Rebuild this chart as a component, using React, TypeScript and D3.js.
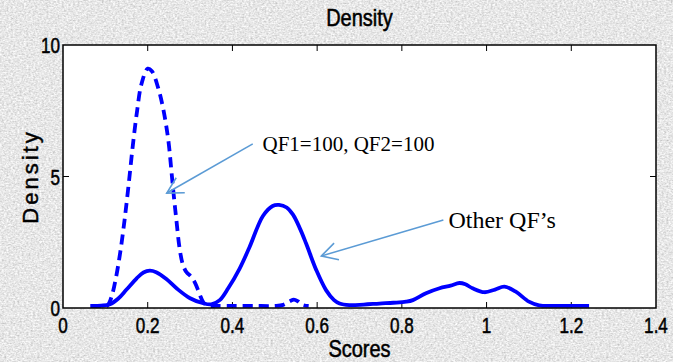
import * as d3 from 'd3';

const W = 673;
const H = 362;

// QF1=100, QF2=100 (dashed)
const qfScores = [0.065, 0.09, 0.105, 0.115, 0.125, 0.135, 0.145, 0.155, 0.165, 0.175, 0.185, 0.2, 0.21, 0.225, 0.235, 0.243, 0.25, 0.256, 0.262, 0.268, 0.275, 0.283, 0.292, 0.302, 0.312, 0.322, 0.332, 0.345, 0.36, 0.4, 0.45, 0.5, 0.52, 0.535, 0.545, 0.555, 0.565, 0.58];
const qfDensity = [0.08, 0.08, 0.1, 0.45, 1.15, 2.1, 3.3, 4.7, 6.2, 7.5, 8.5, 9.1, 9.0, 8.35, 7.7, 7.0, 6.2, 5.2, 4.2, 3.3, 2.3, 1.65, 1.35, 1.2, 0.95, 0.55, 0.2, 0.08, 0.08, 0.08, 0.08, 0.08, 0.12, 0.25, 0.32, 0.25, 0.12, 0.08];

// Other QF's (solid)
const otherScores = [0.065, 0.09, 0.111, 0.13, 0.15, 0.174, 0.19, 0.205, 0.22, 0.244, 0.268, 0.3, 0.331, 0.35, 0.37, 0.39, 0.417, 0.44, 0.472, 0.495, 0.51, 0.528, 0.543, 0.56, 0.574, 0.598, 0.621, 0.64, 0.653, 0.676, 0.71, 0.747, 0.78, 0.81, 0.826, 0.857, 0.889, 0.915, 0.936, 0.95, 0.967, 0.995, 1.02, 1.042, 1.069, 1.1, 1.124, 1.16, 1.2, 1.242];
const otherDensity = [0.08, 0.09, 0.14, 0.35, 0.7, 1.13, 1.35, 1.42, 1.36, 1.1, 0.75, 0.37, 0.18, 0.14, 0.3, 0.75, 1.5, 2.3, 3.5, 3.88, 3.92, 3.82, 3.55, 3.0, 2.45, 1.44, 0.68, 0.3, 0.17, 0.11, 0.13, 0.17, 0.2, 0.24, 0.3, 0.56, 0.75, 0.85, 0.95, 0.9, 0.75, 0.6, 0.7, 0.81, 0.62, 0.24, 0.1, 0.08, 0.08, 0.08];

const xTicks = [0, 0.2, 0.4, 0.6, 0.8, 1, 1.2, 1.4];
const yTicks = [0, 5, 10];

// annotations in data units: arrow = [fromX, fromY, toX, toY]
const notes = [
  { label: 'QF1=100, QF2=100', tx: 0.471, ty: 5.97, size: 21, arrow: [0.448, 6.24, 0.245, 4.37] },
  { label: 'Other QF\u2019s', tx: 0.91, ty: 3.04, size: 24, arrow: [0.898, 3.35, 0.61, 1.98] },
];

const x = d3.scaleLinear().domain([0, 1.4]).range([63, 656]);
const y = d3.scaleLinear().domain([0, 10]).range([308, 45]);

const line = d3.line<[number, number]>()
  .x(d => x(d[0]))
  .y(d => y(d[1]))
  .curve(d3.curveCatmullRom.alpha(0.5));

const qfPath = line(qfScores.map((s, i) => [s, qfDensity[i]] as [number, number])) || '';
const otherPath = line(otherScores.map((s, i) => [s, otherDensity[i]] as [number, number])) || '';

const sans = "'Liberation Sans', Arial, sans-serif";

function Arrow({ a }: { a: number[] }) {
  const x1 = x(a[0]), y1 = y(a[1]), x2 = x(a[2]), y2 = y(a[3]);
  const ang = Math.atan2(y1 - y2, x1 - x2);
  const len = 18, spread = 0.5;
  const h1 = [x2 + len * Math.cos(ang - spread), y2 + len * Math.sin(ang - spread)];
  const h2 = [x2 + len * Math.cos(ang + spread), y2 + len * Math.sin(ang + spread)];
  return (
    <g stroke="#5b9bd5" strokeWidth={1.6} fill="none">
      <line x1={x1} y1={y1} x2={x2} y2={y2} />
      <polyline points={`${h1[0]},${h1[1]} ${x2},${y2} ${h2[0]},${h2[1]}`} />
    </g>
  );
}

export default function App() {
  const [x0, x1] = x.range();
  const [y0, y1] = y.range();
  return (
    <svg width={W} height={H} style={{ position: 'absolute', left: 0, top: 0, display: 'block' }}>
      <defs>
        <filter id="tex" x="0" y="0" width="100%" height="100%">
          <feTurbulence type="fractalNoise" baseFrequency="0.45 0.65" numOctaves="3" seed="5" />
          <feColorMatrix type="saturate" values="0" />
          <feComponentTransfer>
            <feFuncR type="linear" slope="0.8" intercept="0.4" />
            <feFuncG type="linear" slope="0.8" intercept="0.4" />
            <feFuncB type="linear" slope="0.8" intercept="0.4" />
            <feFuncA type="linear" slope="0" intercept="1" />
          </feComponentTransfer>
        </filter>
        <clipPath id="plot">
          <rect x={x0} y={y1} width={x1 - x0} height={y0 - y1} />
        </clipPath>
      </defs>

      {/* textured background */}
      <rect width={W} height={H} fill="#c6c6c6" />
      <rect width={W} height={H} filter="url(#tex)" />

      {/* plot area */}
      <rect x={x0} y={y1} width={x1 - x0} height={y0 - y1} fill="#fff" />

      {/* ticks, inward on all four sides */}
      <g stroke="#000" strokeWidth={1}>
        {xTicks.slice(1, -1).map(t => (
          <g key={t}>
            <line x1={x(t)} x2={x(t)} y1={y0} y2={y0 - 6} />
            <line x1={x(t)} x2={x(t)} y1={y1} y2={y1 + 6} />
          </g>
        ))}
        {yTicks.slice(1, -1).map(t => (
          <g key={t}>
            <line x1={x0} x2={x0 + 6} y1={y(t)} y2={y(t)} />
            <line x1={x1} x2={x1 - 6} y1={y(t)} y2={y(t)} />
          </g>
        ))}
      </g>

      {/* curves */}
      <g clipPath="url(#plot)" fill="none" stroke="#0000ff" strokeWidth={3.8} strokeLinejoin="round">
        <path d={otherPath} />
        <path d={qfPath} strokeDasharray="10,6" />
      </g>

      <rect x={x0} y={y1} width={x1 - x0} height={y0 - y1} fill="none" stroke="#000" strokeWidth={1.5} />

      {/* tick labels */}
      <g fontFamily={sans} fontSize={18} fill="#000" stroke="#000" strokeWidth={0.45}>
        {xTicks.map(t => (
          <text key={t} transform={`translate(${x(t)},${333}) scale(0.95,1.2)`} textAnchor="middle">
            {d3.format('~g')(t)}
          </text>
        ))}
        {yTicks.map(t => (
          <text key={t} transform={`translate(${x0 - 3},${y(t) + 8}) scale(0.95,1.2)`} textAnchor="end">
            {t}
          </text>
        ))}
      </g>

      {/* titles */}
      <g fontFamily={sans} fill="#000" stroke="#000" strokeWidth={0.45}>
        <text transform={`translate(${(x0 + x1) / 2},26) scale(1,1.2)`} textAnchor="middle" fontSize={20}>
          Density
        </text>
        <text transform={`translate(${(x0 + x1) / 2},357) scale(1,1.2)`} textAnchor="middle" fontSize={20}>
          Scores
        </text>
        <text transform={`translate(38,${(y0 + y1) / 2}) rotate(-90)`} textAnchor="middle" fontSize={22} letterSpacing={3}>
          Density
        </text>
      </g>

      {/* annotations */}
      {notes.map(n => (
        <g key={n.label}>
          <Arrow a={n.arrow} />
          <text x={x(n.tx)} y={y(n.ty)} fontFamily="'Liberation Serif', 'Times New Roman', serif" fontSize={n.size} fill="#000">
            {n.label}
          </text>
        </g>
      ))}
    </svg>
  );
}
